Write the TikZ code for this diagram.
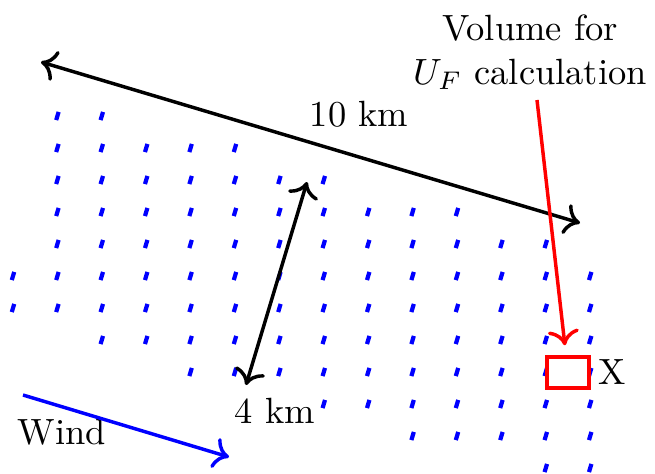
\documentclass[tikz,border=0pt]{standalone}
\usepackage{amsmath}
\usepackage{tikz}
\usetikzlibrary{positioning, arrows.meta, calc}
\definecolor{farmblue}{RGB}{0,0,255}
\definecolor{markred}{RGB}{255,0,0}
\tikzset{
  turbine/.style={
    draw=farmblue, line width=1.15pt
  },
  dimarrow/.style={
    {To[length=4.2pt,width=8.5pt]}-{To[length=4.2pt,width=8.5pt]},
    draw=black, line width=0.95pt
  },
  windarrow/.style={
    -{To[length=4.2pt,width=8.5pt]}, draw=farmblue, line width=0.95pt
  },
  redarrow/.style={
    -{To[length=4.2pt,width=8.5pt]}, draw=markred, line width=0.95pt
  },
  volbox/.style={
    rectangle, draw=markred, line width=0.95pt,
    minimum width=11.6pt, minimum height=8.6pt, inner sep=0pt
  },
  labeltext/.style={
    font=\normalsize, inner sep=0pt
  }
}

\begin{document}
\begin{tikzpicture}[x=0.274pt, y=-0.274pt]
  \useasboundingbox (0,0) rectangle (655,473);

  % turbines, one row at a time: row / first column / last column
  \foreach \r/\a/\b in {0/1/2, 1/1/5, 2/1/7, 3/1/10, 4/1/12, 5/0/13,
                        6/0/13, 7/2/13, 8/4/13, 9/7/13, 10/9/13, 11/12/13}
    \foreach \c in {\a,...,\b}
      \draw[turbine] ({13+44.4*\c-1.22},{116+32*\r+4.07}) -- ++(2.44,-8.14);

  % distances
  \coordinate (tenL) at (41,62);
  \coordinate (tenR) at (580,223);
  \node[labeltext] (tenkm) at (359,114) {10 km};
  \draw[dimarrow] (tenL) -- (tenR);

  \coordinate (fourT) at (307,182);
  \coordinate (fourB) at (246,385);
  \node[labeltext] (fourkm) at (275,411) {4 km};
  \draw[dimarrow] (fourT) -- (fourB);

  % wind direction
  \coordinate (windA) at (23,395);
  \coordinate (windB) at (229,457);
  \node[labeltext] (wind) at (62,432) {Wind};
  \draw[windarrow] (windA) -- (windB);

  % control volume
  \node[volbox] (cv) at (568,372.5) {};
  \node[labeltext, right=1.8pt of cv] (xlab) {X};
  \node[labeltext, align=center, anchor=north] (vol) at (530,14)
    {Volume for\\$U_F$ calculation};
  \coordinate (volpt) at (537,100);
  \draw[redarrow, shorten >=2.7pt] (volpt) -- (cv);
\end{tikzpicture}
\end{document}
